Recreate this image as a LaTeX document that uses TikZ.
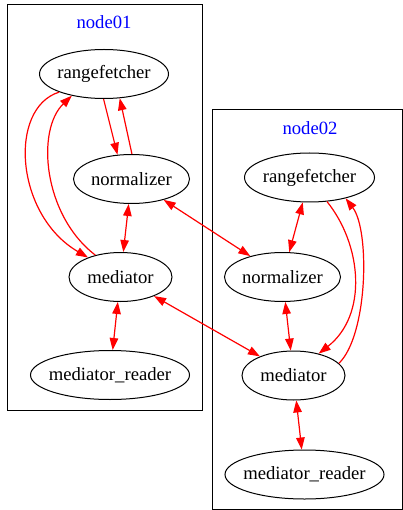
\documentclass[tikz,border=0pt]{standalone}
\usepackage{fontspec}
\setmainfont{Liberation Serif}
\usetikzlibrary{arrows.meta,shapes.geometric}

\begin{document}
\begin{tikzpicture}[x=1pt, y=-1pt,
    >={Triangle[length=12pt,width=8.5pt]},
    proc/.style={ellipse, draw, line width=1pt, inner sep=0pt, minimum height=49pt, font=\fontsize{18.67}{22}\selectfont},
    cluster/.style={draw, line width=1pt},
    title/.style={text=blue, font=\fontsize{18.67}{22}\selectfont},
    arrow/.style={->, line width=1.2pt, color=red},
    both/.style={<->, line width=1.2pt, color=red}
  ]
    \useasboundingbox (0,0) rectangle (403,510);

    \draw[cluster] (7,5) rectangle (202,410.5);
    \draw[cluster] (212,110) rectangle (402,509);
    \node[title] (t1) at (104,22) {node01};
    \node[title] (t2) at (310,128) {node02};

    \node[proc, minimum width=129pt] (ra1) at (104,74) {\makebox[0pt]{rangefetcher}};
    \node[proc, minimum width=116pt] (no1) at (131.5,179) {\makebox[0pt]{normalizer}};
    \node[proc, minimum width=103pt] (me1) at (120.5,277) {\makebox[0pt]{mediator}};
    \node[proc, minimum width=159pt] (mr1) at (110,375) {\makebox[0pt]{mediator\_reader}};

    \node[proc, minimum width=130pt] (ra2) at (309.5,177.5) {\makebox[0pt]{rangefetcher}};
    \node[proc, minimum width=116pt] (no2) at (282.5,277) {\makebox[0pt]{normalizer}};
    \node[proc, minimum width=103pt] (me2) at (293.5,375.5) {\makebox[0pt]{mediator}};
    \node[proc, minimum width=159pt] (mr2) at (304.5,474.5) {\makebox[0pt]{mediator\_reader}};

    \draw[arrow] (ra1.269) -- (no1.120);
    \draw[arrow] (no1.89) -- (ra1.303);
    \draw[arrow] (ra1.202) .. controls (8,108) and (15,215) .. (me1.149);
    \draw[arrow] (me1.139) .. controls (43,215) and (36,130) .. (ra1.214);
    \draw[both] (no1) -- (me1);
    \draw[both] (me1) -- (mr1);

    \draw[both] (no1) -- (no2);
    \draw[both] (me1) -- (me2);

    \draw[both] (ra2) -- (no2);
    \draw[both] (no2) -- (me2);
    \draw[both] (me2) -- (mr2);
    \draw[arrow] (ra2.306) .. controls (362,245) and (368,315) .. (me2.41);
    \draw[arrow] (me2.15) .. controls (368,335) and (370,230) .. (ra2.330);
  \end{tikzpicture}
\end{document}
